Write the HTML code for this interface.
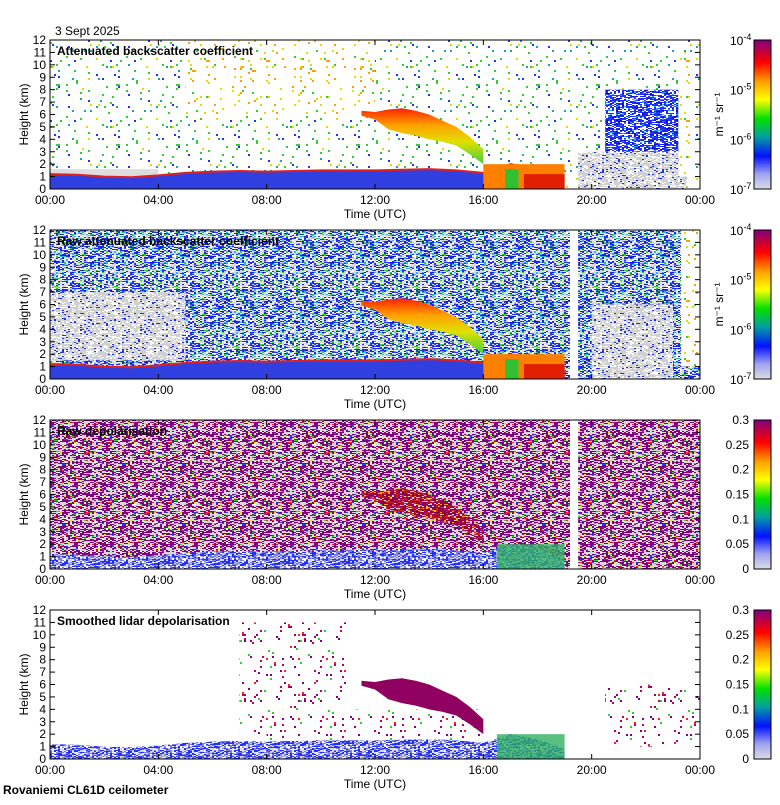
<!DOCTYPE html>
<html><head><meta charset="utf-8"><style>
body{margin:0;background:#fff;font-family:"Liberation Sans",sans-serif}
svg text{font-family:"Liberation Sans",sans-serif}
</style></head><body>
<svg id="s" width="780" height="800" xmlns="http://www.w3.org/2000/svg">
<defs>
<linearGradient id="cmap" x1="0" y1="1" x2="0" y2="0">
<stop offset="0" stop-color="#dcdce4"/><stop offset="0.1" stop-color="#a0a4f0"/><stop offset="0.22" stop-color="#0010ff"/>
<stop offset="0.35" stop-color="#00a0a0"/><stop offset="0.47" stop-color="#00e000"/><stop offset="0.6" stop-color="#ffff00"/>
<stop offset="0.72" stop-color="#ffa000"/><stop offset="0.85" stop-color="#ff0000"/><stop offset="1" stop-color="#800080"/>
</linearGradient>
<linearGradient id="cloudg" x1="0" y1="0" x2="0" y2="1">
<stop offset="0" stop-color="#ff2000"/><stop offset="0.3" stop-color="#ffa000"/><stop offset="0.6" stop-color="#e0e000"/><stop offset="1" stop-color="#40d040"/>
</linearGradient>
</defs>
<text x="55" y="35" font-size="12">3 Sept 2025</text>
<text x="3" y="794" font-size="12" font-weight="bold">Rovaniemi CL61D ceilometer</text>
</svg>
<script>
// ---- data ----
const timeTicks = ["00:00","04:00","08:00","12:00","16:00","20:00","00:00"];
const heightTicks = [0,1,2,3,4,5,6,7,8,9,10,11,12];
const blHours = [0,1,2,3,4,5,6,7,8,9,10,11,12,13,14,15,16,17,18,19];
const blHeights = [1.2,1.15,1.0,0.95,1.1,1.3,1.4,1.45,1.4,1.45,1.5,1.5,1.5,1.55,1.6,1.5,1.3,2.0,1.6,0.8];
const cloudHours = [11.5,12,12.5,13,13.5,14,14.5,15,15.5,16];
const cloudTops = [6.3,6.2,6.4,6.5,6.3,6.0,5.5,5.0,4.2,3.2];
const cloudBases = [5.9,5.6,4.8,4.5,4.3,4.0,3.8,3.5,2.8,2.0];
const panelTitles = ["Attenuated backscatter coefficient","Raw attenuated backscatter coefficient","Raw depolarisation","Smoothed lidar depolarisation"];
const logTicks = ["-4","-5","-6","-7"];
const depolTicks = ["0.3","0.25","0.2","0.15","0.1","0.05","0"];

const S=document.getElementById('s'),NS='http://www.w3.org/2000/svg';
const L=50,R=700,H=149,tops=[40,230,420,610];
function el(t,a,p){const e=document.createElementNS(NS,t);for(const k in a)e.setAttribute(k,a[k]);(p||S).appendChild(e);return e;}
const xs=h=>L+(R-L)*h/24;
function ys(top,km){return top+H-H*km/12;}
// deterministic texture generator (visual noise, not data)
let seed=7;function rnd(){seed=(seed*16807)%2147483647;return seed/2147483647;}
function pattern(id,cols,probs,bg,cw,chh){
  cw=cw||2;chh=chh||1;const T=60;
  const p=el('pattern',{id:id,width:T,height:T,patternUnits:'userSpaceOnUse'},S.querySelector('defs'));
  if(bg)el('rect',{width:T,height:T,fill:bg},p);
  for(let i=0;i<T/cw;i++)for(let j=0;j<T/chh;j++){const r=rnd();let acc=0;for(let c=0;c<cols.length;c++){acc+=probs[c];if(r<acc){el('rect',{x:i*cw,y:j*chh,width:cw,height:chh,fill:cols[c]},p);break;}}}
}
pattern('sparse',['#30d030','#20a0a0','#2030ff','#e0e000'],[0.02,0.01,0.012,0.006],'#fff',2,2);
pattern('sparseY',['#e0e000','#ffa000','#30d030'],[0.025,0.02,0.015],'#fff',2,2);
pattern('raw',['#2030ff','#30b0ff','#30d030','#d8d8d8','#1020c0'],[0.22,0.08,0.08,0.3,0.1],'#fff');
pattern('grayN',['#d0d0d0','#2030ff'],[0.6,0.08],'#fff');
pattern('dep',['#800080','#d8d8d8','#ff2020','#30d030','#2040ff','#e0e000'],[0.42,0.38,0.04,0.03,0.03,0.02],'#fff');
pattern('depCloud',['#900040','#d02020','#800080','#ffa000'],[0.35,0.25,0.2,0.1],'#d8d8d8');
pattern('blueN',['#2030ff','#8080e0','#d8d8f0'],[0.35,0.3,0.25],'#fff');
pattern('blueSp',['#2030ff','#1010d0','#30a0ff'],[0.4,0.15,0.1],'#fff');
pattern('purpN',['#800080','#c00060','#ff2020','#30d030'],[0.03,0.015,0.01,0.008],'#fff',2,2);

function bl(top){return blHours.map((h,i)=>xs(h)+','+ys(top,blHeights[i]));}
function cloudPoly(top,fill,g){
  let up=cloudHours.map((h,i)=>xs(h)+','+ys(top,cloudTops[i]));
  let dn=cloudHours.map((h,i)=>xs(h)+','+ys(top,cloudBases[i])).reverse();
  const p=el('polygon',{points:up.concat(dn).join(' '),fill:fill},g);
  
  
}
function groundLayer(top,fill,g,endH,line){
  const n=blHours.filter(h=>h<=endH).length;
  const pts=bl(top).slice(0,n);
  const poly=el('polygon',{points:xs(0)+','+(top+H)+' '+pts.join(' ')+' '+xs(blHours[n-1])+','+(top+H),fill:fill},g);
  
  
  if(line){
  const ln=el('polyline',{points:pts.join(' '),fill:'none',stroke:line,'stroke-width':2},g);
  
  }
}

tops.forEach((top,pi)=>{
  const g=el('g',{});
  
  
  const bgFill=['url(#sparse)','url(#raw)','url(#dep)','url(#purpN)'][pi];
  el('rect',{x:L,y:top,width:R-L,height:H,fill:pi==3?'#fff':bgFill},g);
  if(pi==0){
    el('rect',{x:xs(5),y:ys(top,12),width:xs(12)-xs(5),height:ys(top,6)-ys(top,12),fill:'url(#sparseY)'},g);
    el('rect',{x:xs(20.5),y:ys(top,8),width:xs(23.3)-xs(20.5),height:ys(top,1)-ys(top,8),fill:'url(#blueSp)'},g);
    el('rect',{x:xs(19.5),y:ys(top,3),width:xs(23.5)-xs(19.5),height:ys(top,0)-ys(top,3),fill:'url(#grayN)'},g);
    el('rect',{x:xs(0),y:ys(top,1.6),width:xs(4)-xs(0),height:ys(top,1)-ys(top,1.6),fill:'#ddd'},g);
    el('rect',{x:xs(23.2),y:ys(top,11),width:xs(23.7)-xs(23.2),height:ys(top,1)-ys(top,11),fill:'url(#sparseY)'},g);
  }
  if(pi==1){
    el('rect',{x:xs(0),y:ys(top,7),width:xs(5)-xs(0),height:ys(top,1.5)-ys(top,7),fill:'url(#grayN)'},g);
    el('rect',{x:xs(20),y:ys(top,6),width:xs(23)-xs(20),height:ys(top,0)-ys(top,6),fill:'url(#grayN)'},g);
    el('rect',{x:xs(23.3),y:ys(top,12),width:xs(24)-xs(23.3),height:ys(top,1)-ys(top,12),fill:'url(#sparseY)'},g);
  }
  if(pi==3){
    el('rect',{x:xs(7),y:ys(top,11),width:xs(11)-xs(7),height:ys(top,2)-ys(top,11),fill:'url(#purpN)'},g);
    el('rect',{x:xs(20.5),y:ys(top,6),width:xs(24)-xs(20.5),height:ys(top,1)-ys(top,6),fill:'url(#purpN)'},g);
    el('rect',{x:xs(8),y:ys(top,4),width:xs(16)-xs(8),height:ys(top,1.5)-ys(top,4),fill:'url(#purpN)'},g);
  }
  if(pi<2) groundLayer(top,'#3040e0',g,19,'#e02020');
  else groundLayer(top,'url(#blueN)',g,19,null);
  if(pi<2){
    el('rect',{x:xs(16),y:ys(top,2),width:xs(19)-xs(16),height:ys(top,0)-ys(top,2),fill:'#ff8000'},g);
    el('rect',{x:xs(17.5),y:ys(top,1.2),width:xs(19)-xs(17.5),height:ys(top,0)-ys(top,1.2),fill:'#e02000'},g);
    el('rect',{x:xs(16.8),y:ys(top,1.6),width:xs(17.3)-xs(16.8),height:ys(top,0)-ys(top,1.6),fill:'#30c030'},g);
    cloudPoly(top,'url(#cloudg)',g);
  } else {
    el('rect',{x:xs(16.5),y:ys(top,2),width:xs(19)-xs(16.5),height:ys(top,0)-ys(top,2),fill:'#30b060',opacity:0.8},g);
    cloudPoly(top,pi==2?'url(#depCloud)':'#900060',g);
  }
  if(pi>0){const gap=el('rect',{x:xs(19.2),y:top,width:xs(19.5)-xs(19.2),height:H,fill:'#fff'},g);
    }
  el('rect',{x:L,y:top,width:R-L,height:H,fill:'none',stroke:'#000','stroke-width':1},g);
  heightTicks.forEach(k=>{const y=ys(top,k);
    el('line',{x1:L,x2:L+5,y1:y,y2:y,stroke:'#000'},g);el('line',{x1:R-5,x2:R,y1:y,y2:y,stroke:'#000'},g);
    const t=el('text',{x:L-4,y:y+4,'font-size':12,'text-anchor':'end'},g);t.textContent=k;
    });
  timeTicks.forEach((lab,i)=>{const x=xs(i*4);
    el('line',{x1:x,x2:x,y1:top+H-5,y2:top+H,stroke:'#000'},g);el('line',{x1:x,x2:x,y1:top,y2:top+5,stroke:'#000'},g);
    const t=el('text',{x:x,y:top+H+15,'font-size':12,'text-anchor':'middle'},g);t.textContent=lab;
    });
  const xt=el('text',{x:375,y:top+H+29,'font-size':12,'text-anchor':'middle'},g);xt.textContent='Time (UTC)';
  
  const yt=el('text',{x:0,y:0,'font-size':12,'text-anchor':'middle',transform:`translate(28,${top+H/2}) rotate(-90)`},g);yt.textContent='Height (km)';
  
  const tt=el('text',{x:57,y:top+15,'font-size':12,'font-weight':'bold'},g);tt.textContent=panelTitles[pi];
  
  const cb=el('rect',{x:754,y:top,width:17,height:H,fill:'url(#cmap)',stroke:'#000'},g);
  
  if(pi<2){
    logTicks.forEach((e,i)=>{const y=top+H*i/3;
      const t=el('text',{x:730,y:y+5,'font-size':12},g);t.textContent='10';
      
      const sp=el('tspan',{dy:-5,'font-size':9},t);sp.textContent=e;});
    const u=el('text',{x:0,y:0,'font-size':12,'text-anchor':'middle',transform:`translate(723,${top+H/2}) rotate(-90)`},g);
    u.textContent='m⁻¹ sr⁻¹';
  } else {
    depolTicks.forEach((v,i)=>{const y=top+H*i/6;
      const t=el('text',{x:749,y:y+4,'font-size':12,'text-anchor':'end'},g);t.textContent=v;
      });
  }
});
</script>
</body></html>
